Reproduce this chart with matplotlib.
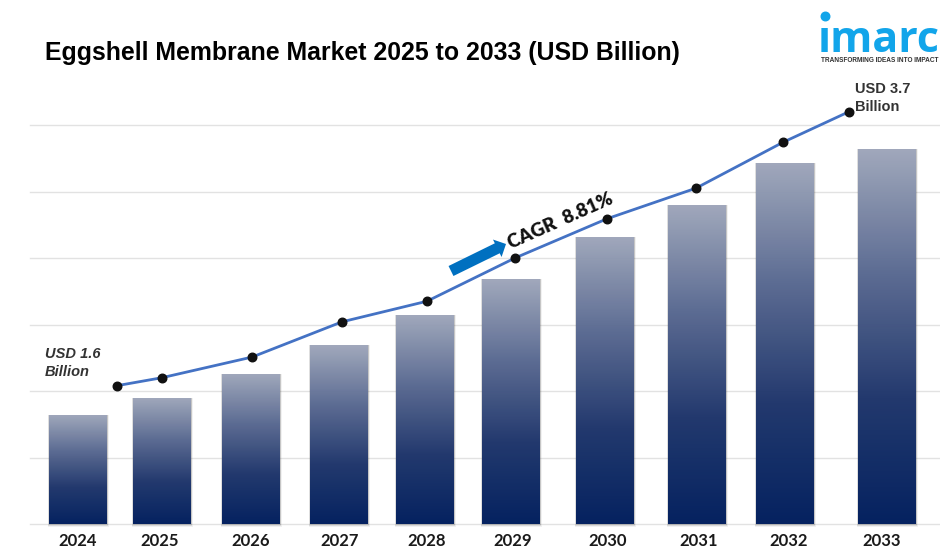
import numpy as np
import matplotlib
matplotlib.use('Agg')
from matplotlib import pyplot as plt
from matplotlib.colors import LinearSegmentedColormap
from matplotlib.patches import Rectangle

years = ['2024', '2025', '2026', '2027', '2028', '2029', '2030', '2031', '2032', '2033']
# read in gridline steps, the picture has no value axis
bar_values = [1.64, 1.90, 2.26, 2.69, 3.14, 3.68, 4.32, 4.80, 5.43, 5.64]
line_values = [2.08, 2.20, 2.51, 3.04, 3.35, 4.00, 4.59, 5.05, 5.74, 6.20]
grid_levels = [0, 1, 2, 3, 4, 5, 6]

bar_x = [78, 162, 251, 339, 425, 511, 605, 697, 785, 887]
line_x = [117, 162, 252, 342, 427, 515, 607, 696, 783, 849]
label_x = [78, 160, 251, 340, 427, 513, 608, 699, 789, 882]


def py(y):
    # pixel row to value, only for placing notes
    return (524 - y) / 66.5


fig = plt.figure(figsize=(9.4, 5.6), dpi=100)
ax = fig.add_axes([0, 0, 1, 1])
ax.set_xlim(0, 940)
ax.set_ylim(py(560), py(0))
ax.axis('off')

for g in grid_levels:
    ax.plot([30, 940], [g, g], color='#e2e2e2', lw=1, zorder=1)

cmap = LinearSegmentedColormap.from_list('bar', ['#a0a8bc', '#5a6a92', '#1f366c', '#001e5e'])
grad = np.linspace(0, 1, 256).reshape(-1, 1)
for x, v in zip(bar_x, bar_values):
    # soft shadow under the bar
    for i, a in enumerate([0.08, 0.12, 0.18]):
        d = 3 - i
        ax.add_patch(Rectangle((x - 29 - d / 2, py(524 + d)), 58 + d, v - py(524 + d),
                               fc='#555555', ec='none', alpha=a, zorder=2))
    im = ax.imshow(grad, extent=[x - 29, x + 29, 0, v], cmap=cmap, aspect='auto', alpha=0.98, zorder=3)
    im.set_clip_path(Rectangle((x - 29, 0), 58, v, transform=ax.transData))
ax.set_xlim(0, 940)
ax.set_ylim(py(560), py(0))

ax.plot(line_x, line_values, color='#4472c4', lw=2, zorder=4)
ax.scatter(line_x, line_values, s=38, color='#111111', zorder=5)

for x, y in zip(label_x, years):
    ax.text(x, py(541), y, ha='center', va='center', fontsize=12, fontweight='bold',
            family='Lato', color='#1a1a1a')

ax.text(45, py(53), 'Eggshell Membrane Market 2025 to 2033 (USD Billion)', ha='left', va='center',
        fontsize=17.9, fontweight='bold', family='Liberation Sans', color='black')

ax.text(45, py(363), 'USD 1.6\nBillion', ha='left', va='center', fontsize=10.5, fontweight='bold',
        style='italic', family='Liberation Sans', color='#333333', linespacing=1.35)
ax.text(855, py(98), 'USD 3.7\nBillion', ha='left', va='center', fontsize=10.5, fontweight='bold',
        family='Liberation Sans', color='#333333', linespacing=1.35)

ax.annotate('', xy=(506, py(244)), xytext=(451, py(271)),
            arrowprops=dict(width=8, headwidth=14, headlength=7, fc='#0070c0', ec='none'), zorder=4)
ax.text(560, py(221), 'CAGR  8.81%', ha='center', va='center', rotation=24, rotation_mode='anchor',
        fontsize=13.5, fontweight='heavy', family='Lato', color='#111111')

# logo
ax.text(818, py(52), '\u0131marc', ha='left', va='baseline', fontsize=31, fontweight='bold',
        family='Open Sans', color='#12a5ea')
ax.scatter([825], [py(16)], s=38, color='#12a5ea', zorder=5)
ax.text(821, py(60), 'TRANSFORMING IDEAS INTO IMPACT', ha='left', va='center', fontsize=4.7,
        fontweight='bold', family='Liberation Sans', color='#333333')

fig.savefig('out.png', dpi=100)
